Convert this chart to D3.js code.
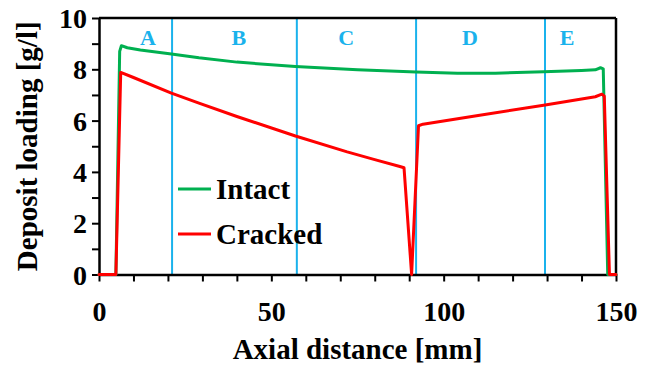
<!DOCTYPE html>
<html><head><meta charset="utf-8">
<script src="https://cdn.jsdelivr.net/npm/d3@7"></script>
<style>html,body{margin:0;padding:0;background:#fff;}svg{display:block;}</style>
</head><body>
<svg id="chart" width="654" height="370"></svg>
<script>
// ---- data ----
const intactX = [0, 4.9, 6.0, 6.5, 8.2, 12, 21, 29, 40, 57, 75, 92, 104, 115, 129, 140, 144, 145.5, 146.3, 147.6, 150];
const intactY = [0, 0, 8.7, 8.92, 8.84, 8.75, 8.6, 8.45, 8.28, 8.11, 7.98, 7.89, 7.85, 7.85, 7.90, 7.95, 7.98, 8.06, 8.02, 0, 0];
const crackedX = [0, 4.9, 6.3, 10, 21, 29, 40, 57, 72, 80, 87.3, 88.5, 90.7, 92.7, 94, 110, 129, 144, 145.9, 146.6, 148.1, 150];
const crackedY = [0, 0, 7.88, 7.68, 7.07, 6.68, 6.16, 5.40, 4.78, 4.48, 4.21, 4.16, 0, 5.80, 5.86, 6.20, 6.60, 6.93, 7.03, 6.95, 0, 0];
const zoneBounds = [21.2, 57.4, 92.0, 129.4];
const zoneNames = ["A", "B", "C", "D", "E"];
const zoneLabelX = [14.2, 40.6, 71.7, 107.6, 135.8];
const xTickLabels = [0, 50, 100, 150];
const yTickLabels = [0, 2, 4, 6, 8, 10];
const seriesNames = ["Intact", "Cracked"];
const seriesColors = ["#00B050", "#FF0000"];

// ---- layout ----
const svg = d3.select("#chart");
const L = 99, R = 616, T = 18, B = 274.5;
const x = d3.scaleLinear().domain([0, 150]).range([L, R]);
const y = d3.scaleLinear().domain([0, 10]).range([B, T]);
const font = "'Liberation Serif','Times New Roman',serif";

// zone lines
svg.append("g").selectAll("line").data(zoneBounds).join("line")
  .attr("x1", d => x(d)).attr("x2", d => x(d)).attr("y1", T).attr("y2", B)
  .attr("stroke", "#1AB2EC").attr("stroke-width", 2);
svg.append("g").selectAll("text").data(zoneNames).join("text")
  .attr("x", (d, i) => x(zoneLabelX[i])).attr("y", 45)
  .attr("text-anchor", "middle").attr("font-family", font).attr("font-weight", "bold")
  .attr("font-size", 22).attr("fill", "#1AB2EC").text(d => d);

// frame top/right
svg.append("line").attr("x1", L).attr("x2", R).attr("y1", T).attr("y2", T).attr("stroke", "#000").attr("stroke-width", 2.5);
svg.append("line").attr("x1", R).attr("x2", R).attr("y1", T).attr("y2", B).attr("stroke", "#000").attr("stroke-width", 2.5);

// axes
const xAxis = d3.axisBottom(x).tickValues(d3.range(0, 151, 10)).tickSize(7).tickSizeOuter(0)
  .tickFormat(d => xTickLabels.includes(d) ? d : "");
const gx = svg.append("g").attr("transform", `translate(0,${B})`).call(xAxis);
const yAxis = d3.axisLeft(y).tickValues(d3.range(0, 11, 1)).tickSize(7).tickSizeOuter(0)
  .tickFormat(d => yTickLabels.includes(d) ? d : "");
const gy = svg.append("g").attr("transform", `translate(${L},0)`).call(yAxis);
[gx, gy].forEach(g => {
  g.select(".domain").attr("stroke", "#000").attr("stroke-width", 2.5);
  g.selectAll(".tick line").attr("stroke", "#000").attr("stroke-width", 2);
  g.selectAll("text").attr("font-family", font).attr("font-weight", "bold")
    .attr("font-size", 28).attr("fill", "#000");
});
gx.selectAll("text").attr("dy", null).attr("y", 46);
gy.selectAll("text").attr("x", -12).attr("dy", "0.34em");

// series (drawn over the axes, as in the reference)
const line = d3.line().x(d => x(d[0])).y(d => y(d[1]));
const intact = intactX.map((v, i) => [v, intactY[i]]);
const cracked = crackedX.map((v, i) => [v, crackedY[i]]);
[intact, cracked].forEach((s, i) => {
  svg.append("path").datum(s).attr("d", line).attr("fill", "none")
    .attr("stroke", seriesColors[i]).attr("stroke-width", 3)
    .attr("stroke-linejoin", "round").attr("stroke-linecap", "round");
});

// axis titles
svg.append("text").attr("x", (L + R) / 2).attr("y", 359).attr("text-anchor", "middle")
  .attr("font-family", font).attr("font-weight", "bold").attr("font-size", 29).text("Axial distance [mm]");
svg.append("text").attr("transform", `translate(37,${(T + B) / 2}) rotate(-90)`).attr("text-anchor", "middle")
  .attr("font-family", font).attr("font-weight", "bold").attr("font-size", 29).text("Deposit loading [g/l]");

// legend
const legY = [189, 234];
seriesNames.forEach((n, i) => {
  svg.append("line").attr("x1", 178).attr("x2", 211).attr("y1", legY[i]).attr("y2", legY[i])
    .attr("stroke", seriesColors[i]).attr("stroke-width", 3);
  svg.append("text").attr("x", 216).attr("y", legY[i] + 10).attr("font-family", font)
    .attr("font-weight", "bold").attr("font-size", 29).text(n);
});
</script>
</body></html>
